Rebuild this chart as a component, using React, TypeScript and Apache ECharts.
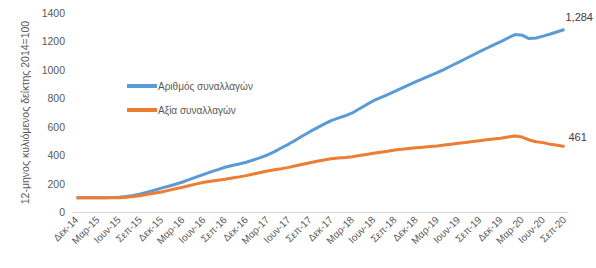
import React, { useEffect, useRef } from "react";
import * as echarts from "echarts";

const monthNames = ["Ιαν", "Φεβ", "Μαρ", "Απρ", "Μαϊ", "Ιουν", "Ιουλ", "Αυγ", "Σεπ", "Οκτ", "Νοε", "Δεκ"];

const categories: string[] = (() => {
  const out: string[] = [];
  let m = 11, y = 14;
  for (let i = 0; i < 70; i++) {
    out.push(`${monthNames[m]}-${y}`);
    m++;
    if (m === 12) { m = 0; y++; }
  }
  return out;
})();

const countSeries = [
  100, 100, 100, 101, 101, 102, 104, 109, 117, 127, 140, 153,
  168, 181, 195, 211, 229, 247, 265, 282, 298, 315, 327, 338,
  350, 366, 383, 401, 425, 452, 478, 506, 536, 565, 592, 618,
  643, 660, 677, 697, 726, 755, 783, 805, 826, 848, 872, 895,
  917, 938, 959, 980, 1004, 1029, 1053, 1078, 1103, 1128, 1152, 1176,
  1199, 1224, 1248, 1244, 1220, 1224, 1237, 1252, 1268, 1284,
];

const valueSeries = [
  100, 100, 100, 100, 100, 100, 101, 104, 109, 115, 124, 132,
  141, 152, 163, 174, 186, 198, 209, 216, 223, 230, 239, 247,
  256, 267, 278, 289, 297, 305, 314, 325, 336, 347, 357, 366,
  375, 380, 384, 389, 397, 405, 413, 421, 428, 436, 441, 447,
  452, 456, 460, 464, 471, 477, 483, 489, 496, 502, 508, 514,
  519, 527, 535, 527, 507, 494, 488, 476, 469, 461,
];

const seriesNames = ["Αριθμός συναλλαγών", "Αξία συναλλαγών"];
const yAxisTitle = "12-μηνος κυλιόμενος δείκτης 2014=100";

const FONT = "Liberation Sans, Arial, sans-serif";
const GREY = "#595959";

export default function App() {
  const ref = useRef<HTMLDivElement>(null);
  useEffect(() => {
    document.body.style.margin = "0";
    if (!ref.current) return;
    const chart = echarts.init(ref.current, undefined, { renderer: "svg" });
    const endLabel = (offset: number[]) => ({
      show: true,
      offset,
      color: "#404040",
      fontSize: 11,
      fontFamily: FONT,
      formatter: (p: any) => Number(p.value).toLocaleString("en-US"),
    });
    chart.setOption({
      animation: false,
      textStyle: { fontFamily: FONT },
      grid: { left: 73, right: 28, top: 13, bottom: 56 },
      legend: {
        orient: "vertical",
        left: 122,
        top: 76,
        itemWidth: 30,
        itemHeight: 4,
        itemGap: 14,
        icon: "rect",
        textStyle: { color: GREY, fontSize: 10, fontFamily: FONT, padding: [0, 0, 0, -4] },
        data: seriesNames,
      },
      xAxis: {
        type: "category",
        data: categories,
        boundaryGap: true,
        axisLine: { lineStyle: { color: "#d9d9d9" } },
        axisTick: { show: false },
        axisLabel: { interval: 2, rotate: 45, color: GREY, fontSize: 10, fontFamily: FONT, margin: 6 },
      },
      yAxis: {
        type: "value",
        min: 0,
        max: 1400,
        interval: 200,
        name: yAxisTitle,
        nameLocation: "middle",
        nameRotate: 90,
        nameGap: 38,
        nameTextStyle: { color: GREY, fontSize: 10.5, fontFamily: FONT },
        splitLine: { show: false },
        axisLine: { show: false },
        axisTick: { show: false },
        axisLabel: { color: GREY, fontSize: 10.5, fontFamily: FONT, margin: 8, formatter: (v: number) => String(v) },
      },
      series: [
        {
          name: seriesNames[0],
          type: "line",
          data: countSeries,
          showSymbol: false,
          symbol: "none",
          lineStyle: { width: 3, color: "#5B9BD5" },
          itemStyle: { color: "#5B9BD5" },
          endLabel: endLabel([-7, -12]),
        },
        {
          name: seriesNames[1],
          type: "line",
          data: valueSeries,
          showSymbol: false,
          symbol: "none",
          lineStyle: { width: 3, color: "#ED7D31" },
          itemStyle: { color: "#ED7D31" },
          endLabel: endLabel([-4, -9]),
        },
      ],
    });
    return () => chart.dispose();
  }, []);
  return <div ref={ref} style={{ width: 596, height: 268 }} />;
}
